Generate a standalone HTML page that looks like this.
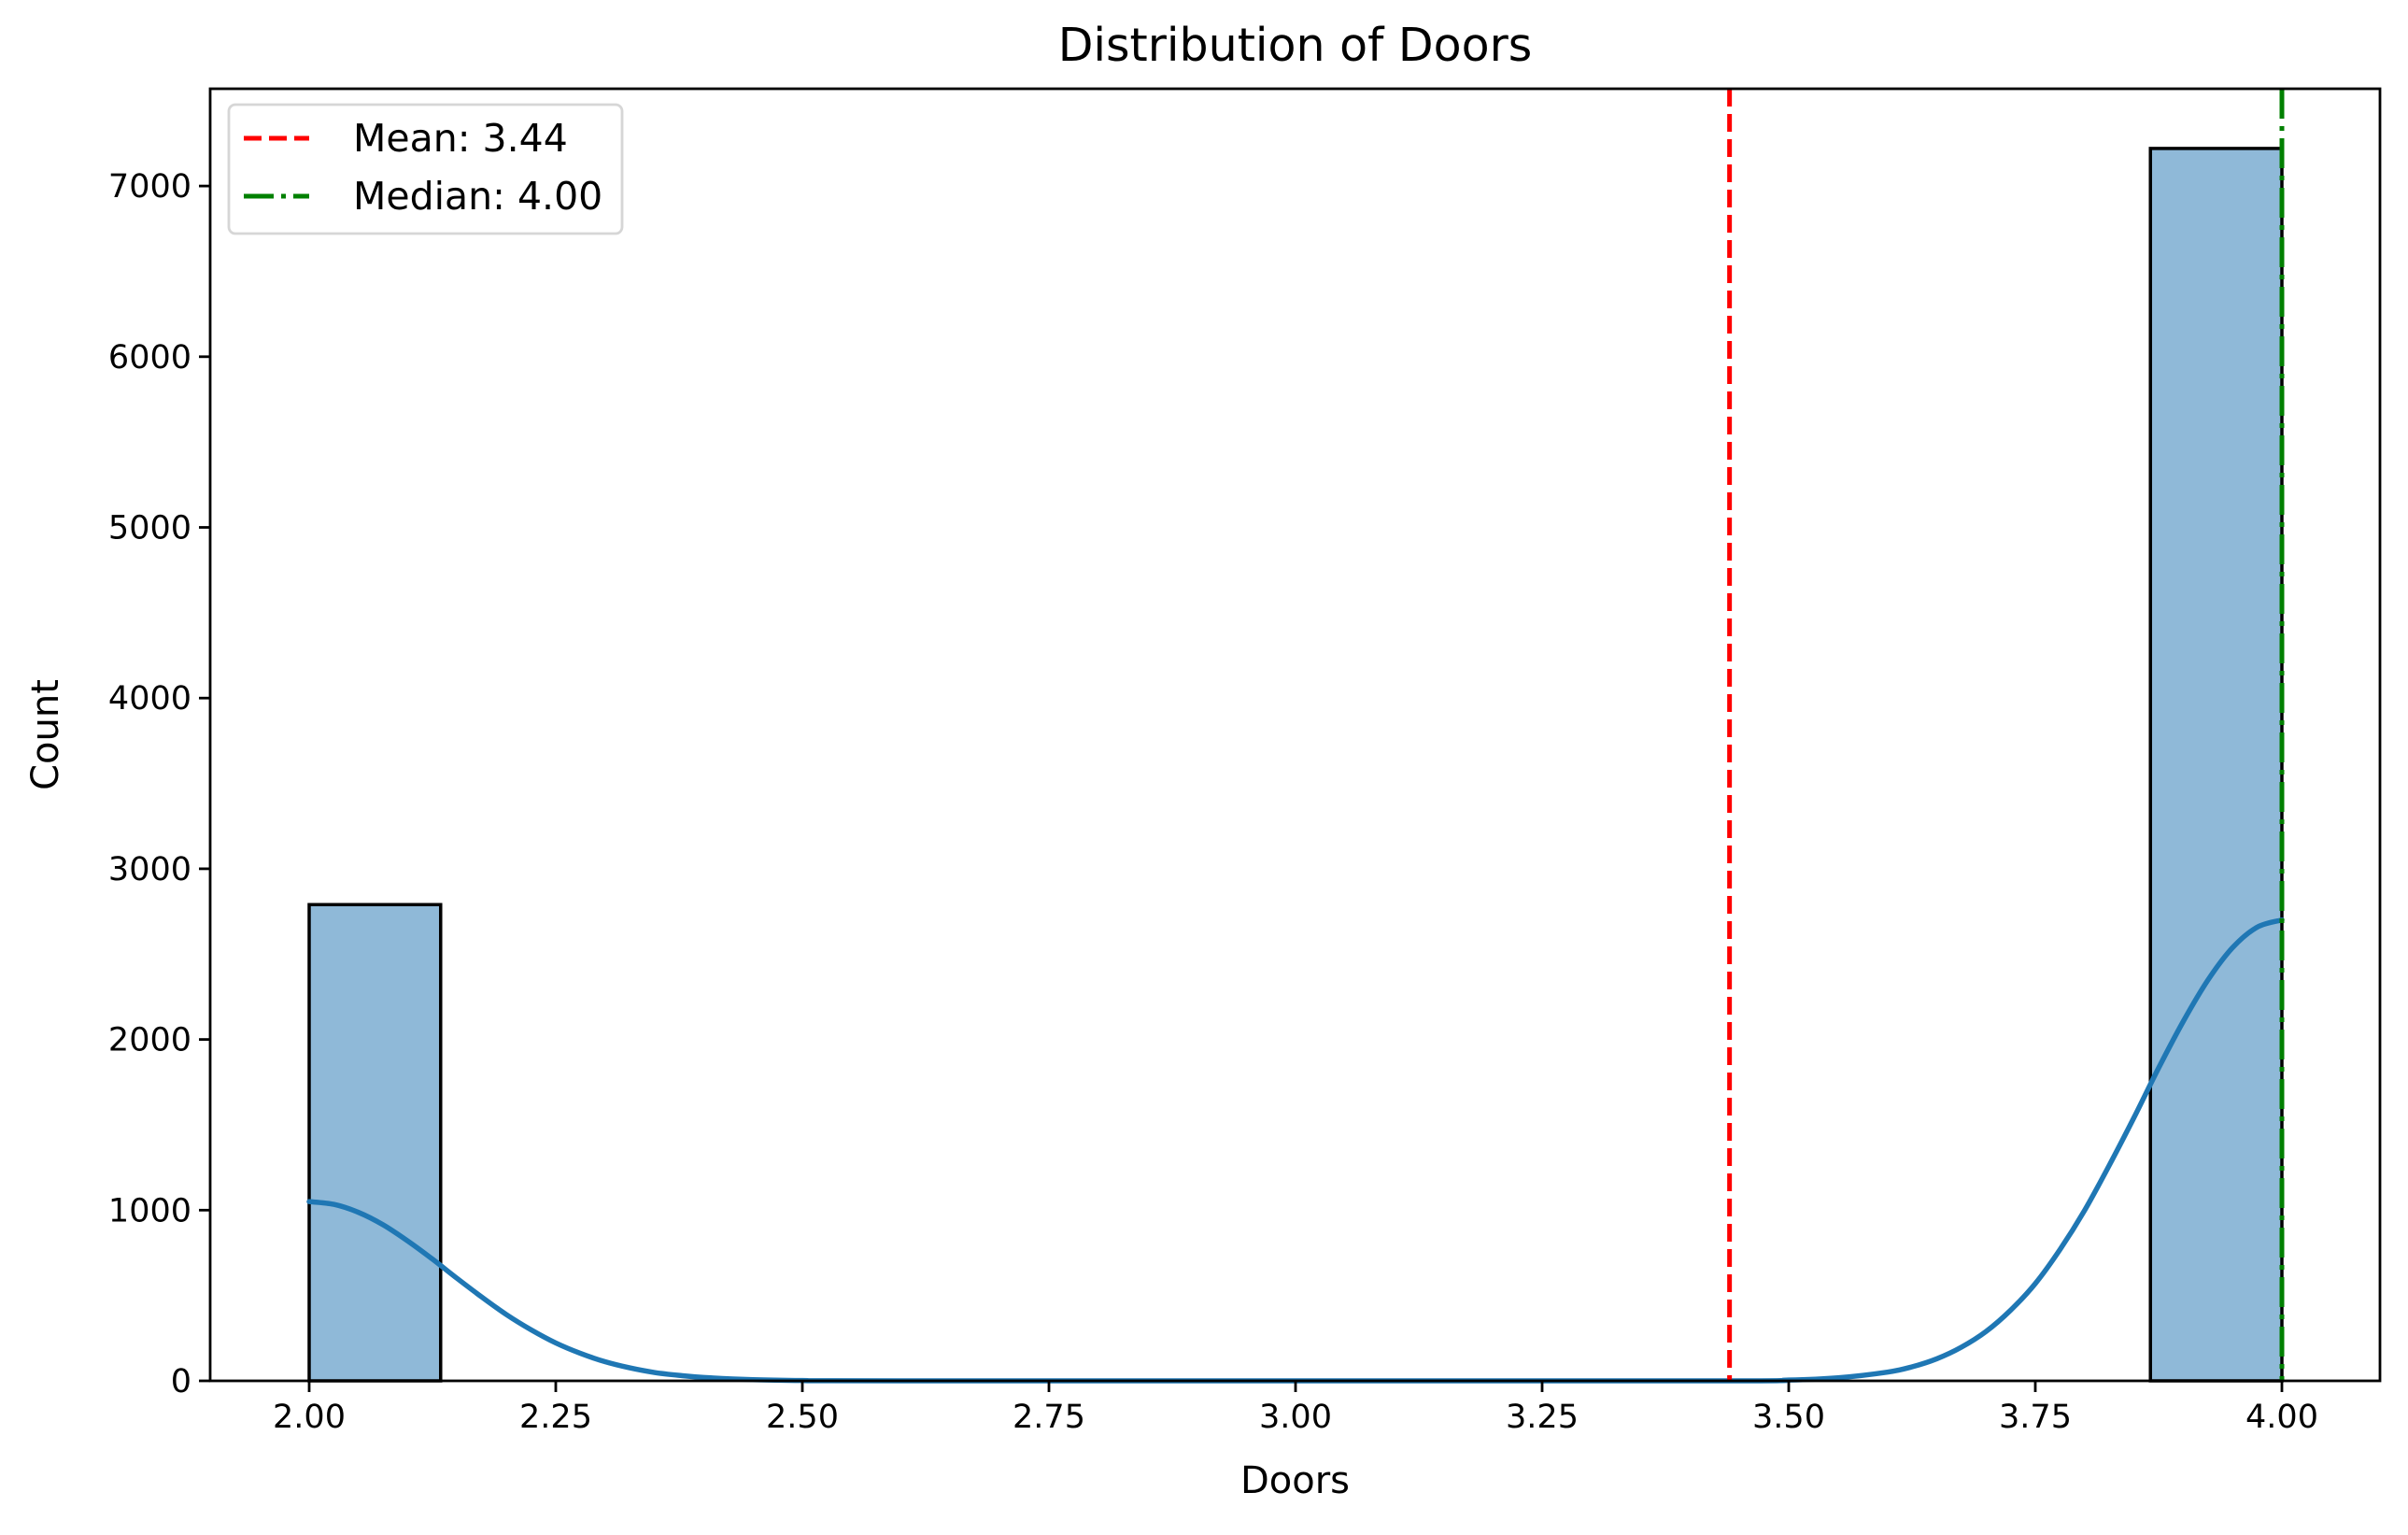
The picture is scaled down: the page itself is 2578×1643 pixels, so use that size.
<!DOCTYPE html>
<html><head><meta charset="utf-8"><style>
html,body{margin:0;padding:0;background:#fff;}
svg text{font-family:"DejaVu Sans","Liberation Sans",sans-serif;fill:#000;}
</style></head><body>
<svg id="chart" width="2578" height="1638" xmlns="http://www.w3.org/2000/svg"></svg>
<script>
const binStarts=[2.0,3.8667];
const binCounts=[2790,7220];
const binWidth=0.1333;
const kdeX=[2.0,2.025,2.05,2.075,2.1,2.125,2.15,2.175,2.2,2.225,2.25,2.275,2.3,2.325,2.35,2.375,2.4,2.45,2.5,2.6,3.4,3.5,3.55,3.6,3.625,3.65,3.675,3.7,3.725,3.75,3.775,3.8,3.825,3.85,3.875,3.9,3.925,3.95,3.975,4.0];
const kdeY=[1050,1034,987,914,819,713,600,491,388,299,222,161,112,76,49,32,20,7,2,0,0,5,18,51,82,129,197,289,414,570,769,999,1263,1542,1833,2106,2348,2538,2658,2700];
const xTicks=[2.0,2.25,2.5,2.75,3.0,3.25,3.5,3.75,4.0];
const xTickLabels=["2.00","2.25","2.50","2.75","3.00","3.25","3.50","3.75","4.00"];
const yTicks=[0,1000,2000,3000,4000,5000,6000,7000];
const meanVal=[3.44];
const medianVal=[4.00];

const L=225,R=2548,T=95,B=1478;
const X=v=>331+(v-2)*1056;
const Y=v=>B-v*0.1827;
const svg=document.getElementById('chart');
const NS='http://www.w3.org/2000/svg';
function mk(tag,attrs,parent){const e=document.createElementNS(NS,tag);for(const k in attrs)e.setAttribute(k,attrs[k]);(parent||svg).appendChild(e);return e;}

binStarts.forEach((s,i)=>{
  const r=mk('rect',{x:X(s),y:Y(binCounts[i]),width:X(s+binWidth)-X(s),height:B-Y(binCounts[i]),fill:'#8fb9d8',stroke:'#000','stroke-width':3.5});
  
  
});

const pts=kdeX.map((x,i)=>[X(x),Y(kdeY[i])]);
let d='M'+pts[0][0]+','+pts[0][1];
for(let i=0;i<pts.length-1;i++){
  const p0=pts[Math.max(0,i-1)],p1=pts[i],p2=pts[i+1],p3=pts[Math.min(pts.length-1,i+2)];
  const c1=[p1[0]+(p2[0]-p0[0])/6,p1[1]+(p2[1]-p0[1])/6];
  const c2=[p2[0]-(p3[0]-p1[0])/6,p2[1]-(p3[1]-p1[1])/6];
  d+=` C${c1[0]},${Math.min(c1[1],B)} ${c2[0]},${Math.min(c2[1],B)} ${p2[0]},${p2[1]}`;
}
const kde=mk('path',{d:d,fill:'none',stroke:'#1f77b4','stroke-width':5.5,'stroke-linecap':'round'});



const mean=mk('line',{x1:X(meanVal[0]),x2:X(meanVal[0]),y1:T,y2:B,stroke:'#ff0000','stroke-width':5,'stroke-dasharray':'19 8'});


const med=mk('line',{x1:X(medianVal[0]),x2:X(medianVal[0]),y1:T,y2:B,stroke:'#008000','stroke-width':5,'stroke-dasharray':'32 8 5 8'});



const frame=mk('rect',{x:L,y:T,width:R-L,height:B-T,fill:'none',stroke:'#000','stroke-width':2.8});



xTicks.forEach((t,i)=>{
  mk('line',{x1:X(t),x2:X(t),y1:B,y2:B+12,stroke:'#000','stroke-width':2.8});
  const tx=mk('text',{x:X(t),y:B+50,'font-size':35,'text-anchor':'middle'});
  tx.textContent=xTickLabels[i];
  
  
});
yTicks.forEach(t=>{
  mk('line',{x1:L-12,x2:L,y1:Y(t),y2:Y(t),stroke:'#000','stroke-width':2.8});
  const tx=mk('text',{x:L-20,y:Y(t)+12,'font-size':35,'text-anchor':'end'});
  tx.textContent=String(t);
  
  
});

const title=mk('text',{x:(L+R)/2,y:65,'font-size':49,'text-anchor':'middle'});
title.textContent='Distribution of Doors';


const xl=mk('text',{x:(L+R)/2,y:1598,'font-size':40,'text-anchor':'middle'});
xl.textContent='Doors';


const yl=mk('text',{x:0,y:0,'font-size':40,'text-anchor':'middle',transform:`translate(62,${(T+B)/2}) rotate(-90)`});
yl.textContent='Count';



const lg=mk('g',{});


mk('rect',{x:245,y:112,width:421,height:138,rx:7,fill:'#fff','fill-opacity':0.8,stroke:'#d6d6d6','stroke-width':2.8},lg);
mk('line',{x1:261,x2:331,y1:148,y2:148,stroke:'#ff0000','stroke-width':5,'stroke-dasharray':'19 8'},lg);
mk('line',{x1:261,x2:331,y1:210,y2:210,stroke:'#008000','stroke-width':5,'stroke-dasharray':'32 8 5 8'},lg);
const l1=mk('text',{x:378,y:162,'font-size':41},lg);l1.textContent='Mean: 3.44';


const l2=mk('text',{x:378,y:224,'font-size':41},lg);l2.textContent='Median: 4.00';


</script>
</body></html>
